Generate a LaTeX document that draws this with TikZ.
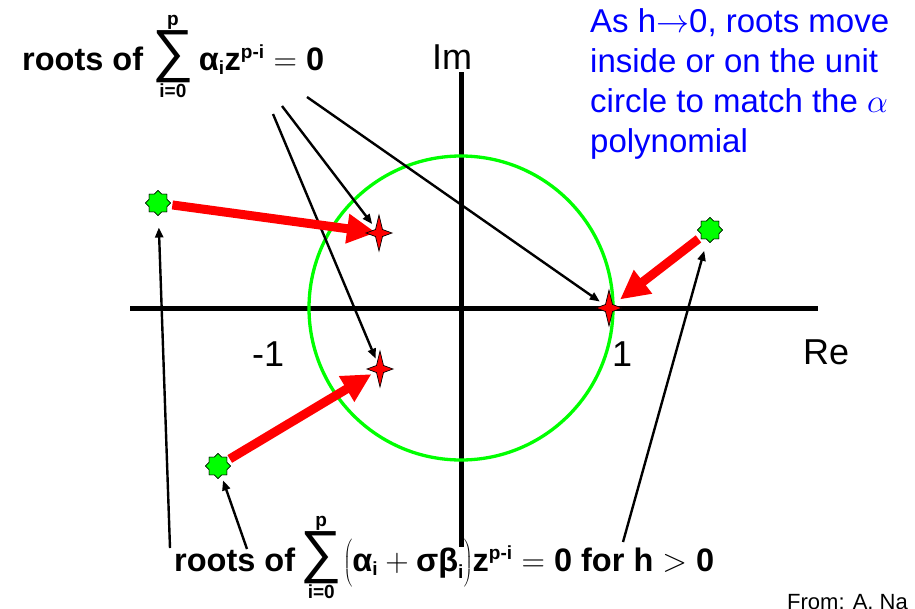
\RequirePackage{fix-cm}
\documentclass[tikz,border=0pt]{standalone}
\usepackage{fontspec}
\setmainfont{Liberation Sans}
\setsansfont{Liberation Sans}
\usetikzlibrary{arrows.meta,shapes.geometric}
\newcommand\sm[1]{\mbox{\fontsize{19}{19}\selectfont\bfseries #1}}
\newcommand\bigsum{\mathop{\mbox{\fontsize{58}{58}\selectfont\mdseries ∑}}\limits}
\tikzset{
 axis/.style={line width=5pt},
 thinarrow/.style={line width=2.4pt, -{Triangle[length=10pt,width=8pt]}},
 bigarrow/.style={line width=9pt, red, -{Triangle[length=29pt,width=28pt]}},
 gstar/.style={star, star points=8, star point ratio=1.3, minimum size=25pt, inner sep=0pt, fill=green, draw=black, line width=0.6pt},
 rspot/.style={circle, minimum size=22pt, inner sep=0pt},
 lbl/.style={font=\fontsize{32.5}{38}\selectfont\bfseries, inner sep=0pt, anchor=base west},
 axlbl/.style={font=\fontsize{36}{40}\selectfont, inner sep=0pt, anchor=base west},
 rstar/.pic={\filldraw[fill=red,draw=black,line width=0.7pt] (0,18) -- (3.5,3.5) -- (13,0) -- (3.5,-3.5) -- (0,-18) -- (-3.5,-3.5) -- (-13,0) -- (-3.5,3.5) -- cycle;}
}
\begin{document}
\begin{tikzpicture}[x=1pt,y=1pt]
\clip (0,0) rectangle (915,-608);
\fill[white] (0,0) rectangle (915,-608);
% axes
\coordinate (xl) at (130,-308);
\coordinate (xr) at (818,-308);
\coordinate (yt) at (461,-72);
\coordinate (yb) at (461,-547);
\draw[axis] (xl) -- (xr);
\draw[axis] (yt) -- (yb);
% unit circle
\coordinate (o) at (461,-308);
\draw[green, line width=3.3pt] (o) circle (152);
% axis labels
\node[axlbl] (im) at (432,-69) {Im};
\node[axlbl] (re) at (803,-364) {Re};
\node[axlbl] (m1) at (252,-366) {-1};
\node[axlbl] (p1) at (612,-366) {1};
% roots
\node[rspot] (r1) at (379,-233) {};
\node[rspot] (r2) at (380,-369) {};
\node[rspot] (r3) at (609,-308) {};
\node[gstar] (g1) at (158,-203) {};
\node[gstar] (g2) at (218,-466) {};
\node[gstar] (g3) at (710,-230) {};
% labels
\node[lbl] (top) at (22,-70) {roots of $\bigsum_{\sm{i=0}}^{\sm{p}}\mbox{α}_{\sm{i}}\mbox{z}^{\sm{p-i}} = \mbox{0}$};
\node[lbl] (bot) at (174,-571) {roots of $\mkern-2mu\bigsum_{\sm{i=0}}^{\sm{p}}\mkern-2mu\left(\rule[-16pt]{0pt}{43pt}\mbox{α}_{\sm{i}} + \mbox{σβ}_{\sm{i}}\right)\mkern-3mu\mbox{z}^{\sm{p-i}} = \mbox{0 for h} > \mbox{0}$};
\node[font=\fontsize{33}{39.7}\selectfont, text=blue, align=left, inner sep=0pt, anchor=base west] (note) at (590,-152)
 {As h$\rightarrow$0, roots move\\inside or on the unit\\circle to match the $\alpha$\\polynomial};
\node[font=\fontsize{22}{24}\selectfont, inner sep=0pt, anchor=base west] (from) at (787,-609) {From: A. Na};
% black arrows from top label
\coordinate (t1) at (273,-114);
\coordinate (t2) at (282,-106);
\coordinate (t3) at (307,-97);
\draw[thinarrow] (t1) -- (r2);
\draw[thinarrow] (t2) -- (r1);
\draw[thinarrow] (t3) -- (r3);
% black arrows from bottom label
\coordinate (b1) at (170,-548);
\coordinate (b2) at (247,-549);
\coordinate (b3) at (623,-542);
\draw[thinarrow, shorten >=12pt] (b1) -- (g1);
\draw[thinarrow, shorten >=5pt] (b2) -- (g2);
\draw[thinarrow, shorten >=11pt] (b3) -- (g3);
% red arrows
\draw[bigarrow, shorten <=3pt, shorten >=3pt] (g1) -- (r1.center);
\draw[bigarrow, shorten <=3pt, shorten >=10pt] (g2) -- (r2.center);
\draw[bigarrow, shorten <=3pt, shorten >=14pt] (g3) -- (r3.center);
% stars on top
\pic at (r1) {rstar};
\pic at (r2) {rstar};
\pic at (r3) {rstar};
\node[gstar] at (g1) {};
\node[gstar] at (g2) {};
\node[gstar] at (g3) {};
\end{tikzpicture}
\end{document}
